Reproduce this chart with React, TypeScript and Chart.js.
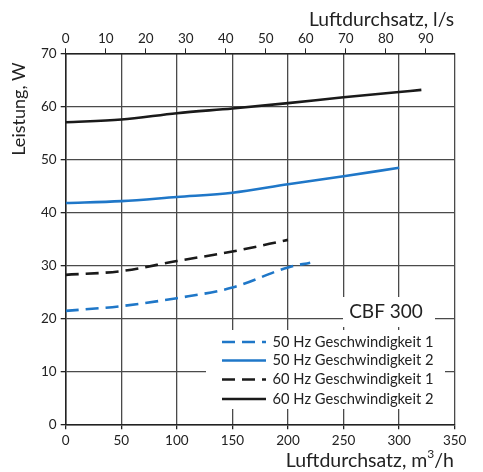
import React, { useEffect, useRef } from "react";
import { Chart, registerables } from "chart.js";

Chart.register(...registerables);

// Data (x: Luftdurchsatz m³/h, y: Leistung W)
const flow50Hz1 = [0, 50, 100, 150, 200, 220];
const power50Hz1 = [21.4, 22.3, 23.8, 25.8, 29.6, 30.5];

const flow50Hz2 = [0, 50, 100, 150, 200, 250, 300];
const power50Hz2 = [41.75, 42.1, 42.9, 43.7, 45.3, 46.8, 48.4];

const flow60Hz1 = [0, 50, 100, 150, 200];
const power60Hz1 = [28.2, 28.9, 30.8, 32.6, 34.8];

const flow60Hz2 = [0, 50, 100, 150, 200, 250, 300, 320];
const power60Hz2 = [57.0, 57.5, 58.7, 59.6, 60.6, 61.7, 62.7, 63.1];

const seriesLabels = [
  "50 Hz Geschwindigkeit 1",
  "50 Hz Geschwindigkeit 2",
  "60 Hz Geschwindigkeit 1",
  "60 Hz Geschwindigkeit 2",
];
const modelLabel = "CBF 300";
const yTitle = "Leistung, W";
const topTitle = "Luftdurchsatz, l/s";
const bottomTitleMain = "Luftdurchsatz, m";
const bottomTitleSup = "3";
const bottomTitleEnd = "/h";

const M3H_PER_LS = 3.6;
const X_MAX = 350;
const Y_MAX = 70;

const BLUE = "#1f77c8";
const BLACK = "#1a1a1a";
const FONT = 'Lato, "Open Sans", sans-serif';
const DASH = [13, 7];

const toPoints = (xs: number[], ys: number[]) => xs.map((x, i) => ({ x, y: ys[i] }));

export default function App() {
  const ref = useRef<HTMLCanvasElement | null>(null);

  useEffect(() => {
    document.body.style.margin = "0";
    const canvas = ref.current;
    if (!canvas) return;

    const colors = [BLUE, BLUE, BLACK, BLACK];
    const dashes = [DASH, [], DASH, []];

    const overlay = {
      id: "overlay",
      afterDraw(chart: any) {
        const ctx = chart.ctx as CanvasRenderingContext2D;
        ctx.save();
        ctx.fillStyle = "#222";
        // y title
        ctx.save();
        ctx.translate(19, 109);
        ctx.rotate(-Math.PI / 2);
        ctx.font = `18px ${FONT}`;
        ctx.textAlign = "center";
        ctx.textBaseline = "middle";
        ctx.fillText(yTitle, 0, 0, 97);
        ctx.restore();

        // top title
        ctx.font = `19.5px ${FONT}`;
        ctx.textAlign = "right";
        ctx.textBaseline = "middle";
        ctx.fillText(topTitle, 454, 20, 145);

        // bottom title with superscript
        ctx.textAlign = "left";
        ctx.font = `19.5px ${FONT}`;
        const w1 = ctx.measureText(bottomTitleMain).width;
        const w3 = ctx.measureText(bottomTitleEnd).width;
        ctx.font = `12px ${FONT}`;
        const w2 = ctx.measureText(bottomTitleSup).width;
        const x0 = 454 - (w1 + w2 + w3);
        const yb = 461;
        ctx.font = `19.5px ${FONT}`;
        ctx.fillText(bottomTitleMain, x0, yb);
        ctx.font = `12px ${FONT}`;
        ctx.fillText(bottomTitleSup, x0 + w1, yb - 7);
        ctx.font = `19.5px ${FONT}`;
        ctx.fillText(bottomTitleEnd, x0 + w1 + w2, yb);

        // model box
        ctx.fillStyle = "#fff";
        ctx.fillRect(343, 297, 92, 30);
        ctx.fillStyle = "#222";
        ctx.font = `19px ${FONT}`;
        ctx.textAlign = "center";
        ctx.textBaseline = "middle";
        ctx.fillText(modelLabel, 386, 312);

        // legend box
        ctx.fillStyle = "#fff";
        ctx.fillRect(206, 330, 239, 79);
        const rows = [342, 360.5, 379.5, 399];
        rows.forEach((ry, i) => {
          ctx.strokeStyle = colors[i];
          ctx.lineWidth = 2.5;
          ctx.setLineDash(dashes[i]);
          ctx.beginPath();
          ctx.moveTo(222, ry);
          ctx.lineTo(266, ry);
          ctx.stroke();
          ctx.setLineDash([]);
          ctx.fillStyle = "#222";
          ctx.font = `15px ${FONT}`;
          ctx.textAlign = "left";
          ctx.textBaseline = "middle";
          ctx.fillText(seriesLabels[i], 272.5, ry, 161);
        });
        ctx.restore();
      },
    };

    const mk = (i: number, xs: number[], ys: number[]) => ({
      label: seriesLabels[i],
      data: toPoints(xs, ys),
      borderColor: colors[i],
      backgroundColor: colors[i],
      borderWidth: 2.6,
      borderDash: dashes[i],
      pointRadius: 0,
      cubicInterpolationMode: "monotone" as const,
      fill: false,
      xAxisID: "x",
      yAxisID: "y",
    });

    const tickFont = { family: FONT, size: 13.5 };
    const chart = new Chart(canvas, {
      type: "line",
      data: {
        datasets: [
          mk(0, flow50Hz1, power50Hz1),
          mk(1, flow50Hz2, power50Hz2),
          mk(2, flow60Hz1, power60Hz1),
          mk(3, flow60Hz2, power60Hz2),
        ],
      },
      options: {
        responsive: false,
        animation: false,
        layout: { padding: { left: 0, right: 28.3, top: 0, bottom: 0 } },
        plugins: { legend: { display: false }, tooltip: { enabled: false } },
        scales: {
          x: {
            type: "linear",
            position: "bottom",
            min: 0,
            max: X_MAX,
            ticks: { stepSize: 50, font: tickFont, color: "#222", padding: 3, maxRotation: 0 },
            grid: { color: "#4a4a4a", lineWidth: 1.3, tickLength: 5, tickColor: "#222" },
            border: { color: "#222", width: 1.5 },
            afterFit: (s: any) => { s.height = 47.7; },
          },
          x2: {
            type: "linear",
            position: "top",
            min: 0,
            max: X_MAX / M3H_PER_LS,
            ticks: { stepSize: 10, font: tickFont, color: "#222", padding: 2, includeBounds: false, maxRotation: 0 },
            grid: { drawOnChartArea: false, tickLength: 5, tickColor: "#222" },
            border: { color: "#222", width: 1.5 },
            afterFit: (s: any) => { s.height = 53.3; },
          },
          y: {
            type: "linear",
            min: 0,
            max: Y_MAX,
            ticks: { stepSize: 10, font: tickFont, color: "#222", padding: 4 },
            grid: { color: "#4a4a4a", lineWidth: 1.3, tickLength: 5, tickColor: "#222" },
            border: { color: "#222", width: 1.5 },
            afterFit: (s: any) => { s.width = 65.7; },
          },
        },
      },
      plugins: [overlay],
    });
    return () => chart.destroy();
  }, []);

  return (
    <div style={{ width: 483, height: 472 }}>
      <canvas ref={ref} width={483} height={472} />
    </div>
  );
}
